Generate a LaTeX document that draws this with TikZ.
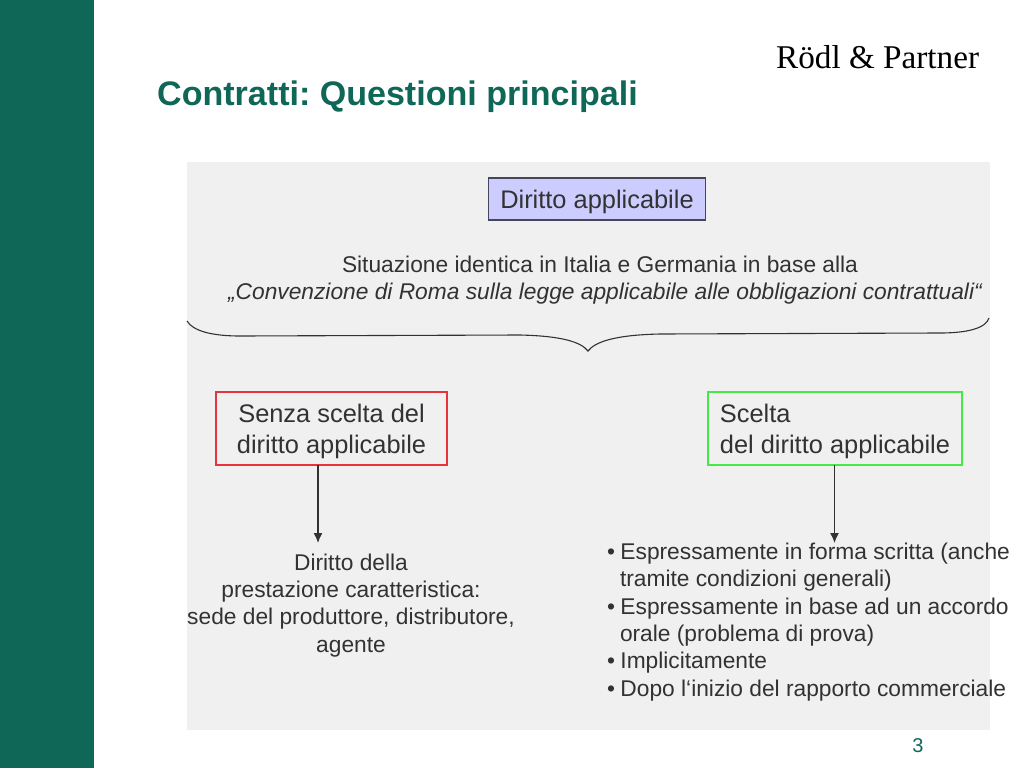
\documentclass[tikz,border=0pt]{standalone}
\usepackage{fontspec}
\setmainfont{Liberation Sans}
\newfontfamily\logofont{Liberation Serif}
\usetikzlibrary{arrows.meta}
\definecolor{rgreen}{RGB}{15,103,88}
\definecolor{panel}{RGB}{240,240,240}
\definecolor{ink}{RGB}{50,50,50}
\definecolor{lilac}{RGB}{204,204,255}
\definecolor{redline}{RGB}{232,50,60}
\definecolor{greenline}{RGB}{70,232,70}
\definecolor{slateline}{RGB}{70,70,90}
\tikzset{
  x=1pt,y=-1pt,
  lbl/.style={inner sep=0pt,outer sep=0pt,text=ink,font=\fontsize{22.75}{27.3}\selectfont},
  boxlbl/.style={rectangle,inner sep=0pt,outer sep=0pt,text=ink,font=\fontsize{25.4}{31}\selectfont},
  conn/.style={draw=ink,line width=1.4pt,-{Latex[length=10pt,width=9pt]}}
}
\begin{document}
\begin{tikzpicture}
\useasboundingbox (0,0) rectangle (1024,768);
\fill[white] (0,0) rectangle (1024,768);
\fill[rgreen] (0,0) rectangle (94,768);
\fill[panel] (187,162) rectangle (990,730);
\node[anchor=base west,inner sep=0pt,text=rgreen,font=\bfseries\fontsize{34.05}{36}\selectfont] (title) at (157,105.8) {\frenchspacing Contratti: Questioni principali};
\node[anchor=base west,inner sep=0pt,text=black,font=\logofont\fontsize{33.2}{36}\selectfont] (logo) at (776,68) {Rödl \& Partner};

\node[boxlbl,draw=slateline,line width=1.2pt,fill=lilac,minimum width=217pt,minimum height=42pt] (dir) at (597,199) {\rule{0pt}{24pt}Diritto applicabile};

\node[lbl,align=center,anchor=base] (sit) at (600,299.4) {Situazione identica in Italia e Germania in base alla\\\hspace*{10pt}\itshape „Convenzione di Roma sulla legge applicabile alle obbligazioni contrattuali“};

\draw[ink,line width=1.1pt] (187,321) .. controls (193,331) and (212,336) .. (240,336)
  -- (520,335) .. controls (562,336) and (581,342) .. (588,351)
  .. controls (595,342) and (614,335) .. (660,334)
  -- (940,333) .. controls (968,333) and (986,328) .. (989,318);

\node[boxlbl,draw=redline,line width=1.2pt,minimum width=231pt,minimum height=73pt,align=center] (senza) at (331.5,428.5) {\rule{0pt}{24pt}Senza scelta del\\diritto applicabile};
\node[boxlbl,draw=greenline,line width=1.2pt,minimum width=254pt,minimum height=73pt,align=left] (scelta) at (835,428.5) {\rule{0pt}{24pt}Scelta\\del diritto applicabile};

\coordinate (a1) at (318,543);
\coordinate (a2) at (834.5,543);
\draw[conn] (senza.south -| a1) -- (a1);
\draw[conn] (scelta.south -| a2) -- (a2);

\node[lbl,align=center,anchor=base] (pres) at (351,652) {Diritto della\\prestazione caratteristica:\\sede del produttore, distributore,\\agente};

\node[lbl,align=left,anchor=base west] (b1) at (607,696) {•\hspace{5.5pt}Espressamente in forma scritta (anche\\\hspace{13pt}tramite condizioni generali)\\•\hspace{5.5pt}Espressamente in base ad un accordo\\\hspace{13pt}orale (problema di prova)\\•\hspace{5.5pt}Implicitamente\\•\hspace{5.5pt}Dopo l‘inizio del rapporto commerciale};

\node[anchor=base,inner sep=0pt,text=rgreen,font=\fontsize{20}{24}\selectfont] (pg) at (918,752) {3};
\end{tikzpicture}
\end{document}
